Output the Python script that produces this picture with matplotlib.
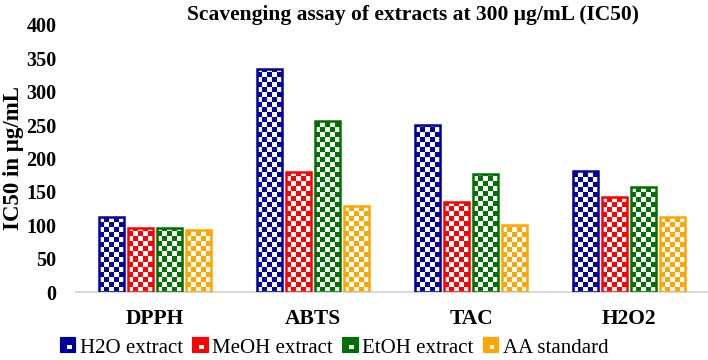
import numpy as np
import matplotlib
matplotlib.use("Agg")
import matplotlib.pyplot as plt
from matplotlib.colors import ListedColormap
from matplotlib.patches import Patch, Rectangle
from matplotlib.legend_handler import HandlerBase

# data
assays = ["DPPH", "ABTS", "TAC", "H2O2"]
series = ["H2O extract", "MeOH extract", "EtOH extract", "AA standard"]
h2o = [112, 334, 250, 181]
meoh = [96, 180, 135, 142]
etoh = [96, 256, 177, 157]
aa = [93, 129, 100, 112]
colors = ["#0000a0", "#ff0000", "#007000", "#ffa500"]

plt.rcParams["font.family"] = ["Liberation Serif", "DejaVu Serif"]


# small checker square for the legend
class CheckerHandler(HandlerBase):
    def create_artists(self, legend, orig, xd, yd, w, h, fontsize, trans):
        s = min(w, h)
        c = orig.get_facecolor()
        outer = Rectangle((xd, yd), s, s, facecolor=c, edgecolor=c, lw=0.8, transform=trans)
        inner = Rectangle((xd + s * 0.45, yd + s * 0.2), s * 0.3, s * 0.3,
                          facecolor="white", edgecolor="none", transform=trans)
        return [outer, inner]


fig = plt.figure(figsize=(7.08, 3.6), dpi=100)
ax = fig.add_axes([76 / 708, 1 - 292 / 360, 1 - 76 / 708, 267 / 360])

x = np.arange(len(assays))
pitch = 0.184
width = 0.158
cell_x = 0.032   # checker cell size in data units
cell_y = 7.5

for i, (vals, col) in enumerate(zip([h2o, meoh, etoh, aa], colors)):
    pos = x + (i - 1.5) * pitch
    bars = ax.bar(pos, vals, width, facecolor="none", edgecolor=col, linewidth=1.8, zorder=3)
    cmap = ListedColormap(["white", col])
    for b in bars:
        x0 = b.get_x()
        h = b.get_height()
        nx = int(np.ceil(width / cell_x))
        ny = int(np.ceil(h / cell_y))
        jj, ii = np.indices((ny, nx))
        board = (ii + jj) % 2
        im = ax.imshow(board, cmap=cmap, extent=[x0, x0 + nx * cell_x, 0, ny * cell_y],
                       origin="lower", aspect="auto", interpolation="nearest", zorder=2)
        im.set_clip_path(b)

ax.set_xlim(-0.5, 3.5)
ax.set_ylim(0, 400)
ax.set_yticks(np.arange(0, 401, 50))
ax.set_xticks(x)
ax.set_xticklabels(assays, fontsize=15.5, fontweight="bold")
for lab in ax.get_yticklabels():
    lab.set_fontsize(14.5)
    lab.set_fontweight("bold")
ax.tick_params(axis="y", length=0, pad=14)
ax.tick_params(axis="x", length=0, pad=12)
for s in ["top", "right", "left"]:
    ax.spines[s].set_visible(False)
ax.spines["bottom"].set_color("#d9d9d9")
ax.spines["bottom"].set_linewidth(1.5)

ax.set_ylabel("IC50 in μg/mL", fontsize=16.5, fontweight="bold")
ax.yaxis.set_label_coords(-0.083, 0.5)
fig.text(0.583, 0.957, "Scavenging assay of extracts at 300 μg/mL (IC50)",
         ha="center", va="center", fontsize=15.5, fontweight="bold")

handles = [Patch(facecolor=c, edgecolor=c, label=s) for c, s in zip(colors, series)]
fig.legend(handles=handles, loc="center", bbox_to_anchor=(0.472, 0.034), ncol=4,
           frameon=False, prop={"family": "Liberation Serif", "size": 15},
           handler_map={Patch: CheckerHandler()},
           handlelength=0.75, handleheight=0.75, handletextpad=0.2, columnspacing=0.45,
           borderpad=0, borderaxespad=0)

fig.savefig("out.png", dpi=100)
